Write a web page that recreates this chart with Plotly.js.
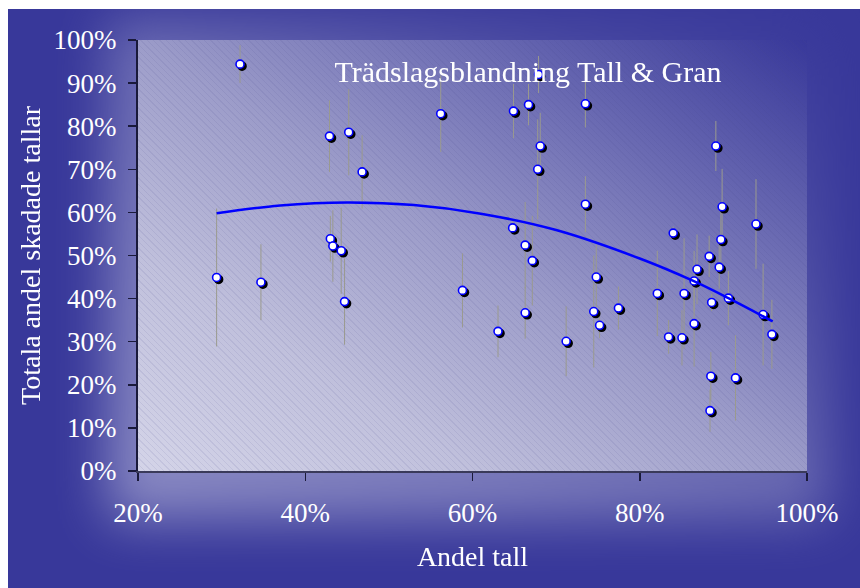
<!DOCTYPE html>
<html>
<head>
<meta charset="utf-8">
<script src="https://cdn.plot.ly/plotly-3.0.1.min.js"></script>
<style>
  html, body { margin:0; padding:0; background:#ffffff; }
  #wrap { position:relative; width:860px; height:588px; overflow:hidden; background:#ffffff; }
  #bg { position:absolute; left:8px; top:9px; width:852px; height:579px; background:#38389a; overflow:hidden; }
  #glow { position:absolute; left:100px; top:10px; width:720px; height:500px;
          background: linear-gradient(to top right, #c4c4e0 0%, #a8a8d2 30%, #8c8cc2 50%, #5c5caa 75%, #38389a 100%);
          filter: blur(26px); opacity:0.6; }
  #plotbg { position:absolute; left:138px; top:40px; width:669px; height:431px;
          background:
            repeating-linear-gradient(45deg, rgba(70,70,140,0.10) 0px, rgba(70,70,140,0.10) 1px, rgba(255,255,255,0) 1px, rgba(255,255,255,0) 4.5px),
            linear-gradient(to top right, #d4d4e8 0%, #c0c0dc 25%, #9c9cc9 50%, #6a6ab2 75%, #38389a 100%); }
  #chart { position:absolute; left:0; top:0; width:860px; height:588px; }
  #chart .scatterlayer .trace .points { filter: drop-shadow(2px 2px 0px #000000); }
</style>
</head>
<body>
<div id="wrap">
  <div id="bg"><div id="glow"></div></div>
  <div id="plotbg"></div>
  <div id="chart"></div>
</div>
<script>
// Data (percent units)
var andelTall = [29.4, 32.2, 34.7, 42.9, 43.0, 43.3, 44.3, 44.7, 45.2, 46.8,
                 56.2, 58.8, 63.05, 64.8, 64.9, 66.3, 66.3, 66.7, 67.15, 67.8,
                 67.9, 68.1, 71.2, 73.5, 73.5, 74.5, 74.8, 75.2, 77.45, 82.1,
                 83.45, 84.0, 85.05, 85.3, 86.5, 86.5, 86.85, 88.3, 88.6, 88.5,
                 88.4, 89.1, 89.5, 89.85, 89.7, 90.6, 91.45, 93.9, 94.75, 95.8];
var skadade = [44.9, 94.4, 43.8, 77.7, 53.9, 52.2, 51.1, 39.3, 78.6, 69.4,
               82.9, 41.9, 32.4, 56.4, 83.5, 52.4, 36.7, 85.0, 48.8, 70.0,
               92.0, 75.4, 30.1, 85.2, 61.9, 37.0, 45.0, 33.8, 37.8, 41.2,
               31.1, 55.2, 30.9, 41.2, 44.1, 34.2, 46.8, 49.8, 39.1, 22.0,
               14.0, 75.4, 47.3, 61.3, 53.7, 40.1, 21.6, 57.3, 36.3, 31.7];
var felmarginal = [16.0, 4.4, 8.8, 8.3, 5.3, 8.3, 10.0, 10.0, 10.0, 8.5,
                   8.9, 8.6, 6.0, 1.5, 6.3, 10.0, 6.0, 4.8, 10.4, 11.6,
                   4.3, 7.7, 8.1, 5.5, 6.5, 13.0, 7.4, 3.0, 5.0, 9.9,
                   3.9, 1.5, 6.4, 12.8, 7.0, 10.0, 8.1, 4.8, 2.0, 5.6,
                   4.9, 5.8, 5.0, 8.8, 7.5, 6.3, 9.9, 10.4, 11.8, 8.0];
// Trend curve, points
var trendX = [29.4, 37.0, 45.0, 53.0, 61.0, 70.0, 80.0, 86.4, 90.6, 95.9];
var trendY = [59.8, 61.6, 62.3, 61.7, 59.7, 55.9, 49.3, 44.1, 40.1, 34.7];

var xTicks = [20, 40, 60, 80, 100];
var xTickText = ['20%', '40%', '60%', '80%', '100%'];
var yTicks = [0, 10, 20, 30, 40, 50, 60, 70, 80, 90, 100];
var yTickText = ['0%', '10%', '20%', '30%', '40%', '50%', '60%', '70%', '80%', '90%', '100%'];

var chartTitle = 'Trädslagsblandning Tall &amp; Gran';
var xTitle = 'Andel tall';
var yTitle = 'Totala andel skadade tallar';

var serif = '"Liberation Serif", "Times New Roman", serif';

var traces = [
  {
    type: 'scatter', mode: 'markers',
    x: andelTall, y: skadade,
    error_y: { type: 'data', array: felmarginal, symmetric: true, color: '#9a9a8e', thickness: 1, width: 0 },
    marker: { symbol: 'circle', size: 8, color: '#ffffff', line: { color: '#0000ff', width: 1.6 } },
    hoverinfo: 'skip', showlegend: false
  },
  {
    type: 'scatter', mode: 'lines',
    x: trendX, y: trendY,
    line: { color: '#0000ff', width: 2.5, shape: 'spline', smoothing: 1 },
    hoverinfo: 'skip', showlegend: false
  }
];

var axisCommon = {
  showgrid: false, zeroline: false, showline: true,
  ticks: 'outside', ticklen: 8, tickwidth: 1.5, tickcolor: '#1a1a3a',
  tickfont: { family: serif, size: 27, color: '#ffffff' },
  automargin: false, fixedrange: true, tickmode: 'array'
};

var layout = {
  width: 860, height: 588,
  margin: { l: 138, r: 53, t: 40, b: 117, pad: 0 },
  paper_bgcolor: 'rgba(0,0,0,0)', plot_bgcolor: 'rgba(0,0,0,0)',
  showlegend: false,
  title: {
    text: chartTitle,
    font: { family: serif, size: 30, color: '#ffffff' },
    xref: 'container', yref: 'container',
    x: 528 / 860, xanchor: 'center',
    y: 1 - 71 / 588, yanchor: 'middle'
  },
  xaxis: Object.assign({}, axisCommon, {
    range: [20, 100], tickvals: xTicks, ticktext: xTickText,
    linecolor: '#3a3a5a', linewidth: 2,
    ticklabelstandoff: 9,
    title: { text: xTitle, font: { family: serif, size: 28, color: '#ffffff' }, standoff: 19 }
  }),
  yaxis: Object.assign({}, axisCommon, {
    range: [0, 100], tickvals: yTicks, ticktext: yTickText,
    linecolor: '#1a1a3a', linewidth: 2,
    ticklabelstandoff: 6,
    title: { text: yTitle, font: { family: serif, size: 28, color: '#ffffff' }, standoff: 5 }
  })
};

Plotly.newPlot('chart', traces, layout, { staticPlot: true, displayModeBar: false });
</script>
</body>
</html>
